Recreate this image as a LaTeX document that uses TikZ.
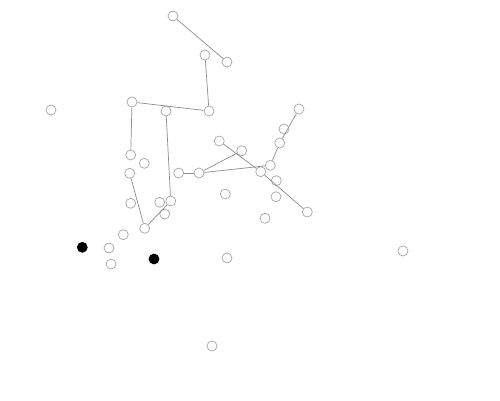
\documentclass[tikz,border=0pt]{standalone}
\begin{document}
\begin{tikzpicture}[x=1pt,y=-1pt,
  nd/.style={circle,draw=black!35,fill=white,line width=0.7pt,minimum size=10pt,inner sep=0pt},
  bk/.style={circle,draw=black,fill=black,line width=0.7pt,minimum size=10pt,inner sep=0pt},
  ed/.style={draw=black!45,line width=0.7pt}]
\useasboundingbox (0,0) rectangle (500,400);
\node[nd] (A) at (173,16) {};
\node[nd] (B) at (227,62) {};
\node[nd] (C) at (205,55) {};
\node[nd] (D) at (209,111) {};
\node[nd] (E) at (132,102) {};
\node[nd] (F) at (166,111) {};
\node[nd] (G) at (130.7,155) {};
\node[nd] (H) at (144.3,163.3) {};
\node[nd] (I) at (129.7,173.3) {};
\node[nd] (J) at (130.7,203.3) {};
\node[nd] (K) at (159.7,202.3) {};
\node[nd] (L) at (170.7,201) {};
\node[nd] (M) at (164.7,214) {};
\node[nd] (N) at (144.7,228.3) {};
\node[nd] (O) at (123.3,234.7) {};
\node[nd] (P) at (109,248) {};
\node[nd] (Q) at (111,264) {};
\node[bk] (R) at (82.3,247.3) {};
\node[bk] (S) at (154,259) {};
\node[nd] (T) at (51,110) {};
\node[nd] (U) at (178.7,173) {};
\node[nd] (V) at (199,173) {};
\node[nd] (W) at (219.3,141) {};
\node[nd] (X) at (241.7,150.7) {};
\node[nd] (Y2) at (270.3,165.3) {};
\node[nd] (Y) at (260.7,171.7) {};
\node[nd] (Z) at (276.3,180.7) {};
\node[nd] (AA) at (307.3,212) {};
\node[nd] (AB) at (279.7,143) {};
\node[nd] (AC) at (284,129) {};
\node[nd] (AD) at (299,109) {};
\node[nd] (AE) at (225.3,194) {};
\node[nd] (AF) at (276,196.7) {};
\node[nd] (AG) at (265,218.3) {};
\node[nd] (AH) at (227,258) {};
\node[nd] (AI) at (212,346) {};
\node[nd] (AJ) at (403,251) {};
\draw[ed] (A) -- (B);
\draw[ed] (C) -- (D);
\draw[ed] (E) -- (D);
\draw[ed] (E) -- (G);
\draw[ed] (F) -- (L);
\draw[ed] (I) -- (N);
\draw[ed] (N) -- (L);
\draw[ed] (U) -- (V);
\draw[ed] (V) -- (X);
\draw[ed] (V) -- (Y2);
\draw[ed] (W) -- (Y);
\draw[ed] (Y) -- (AA);
\draw[ed] (Y2) -- (AB);
\draw[ed] (AB) -- (AD);
\end{tikzpicture}
\end{document}
